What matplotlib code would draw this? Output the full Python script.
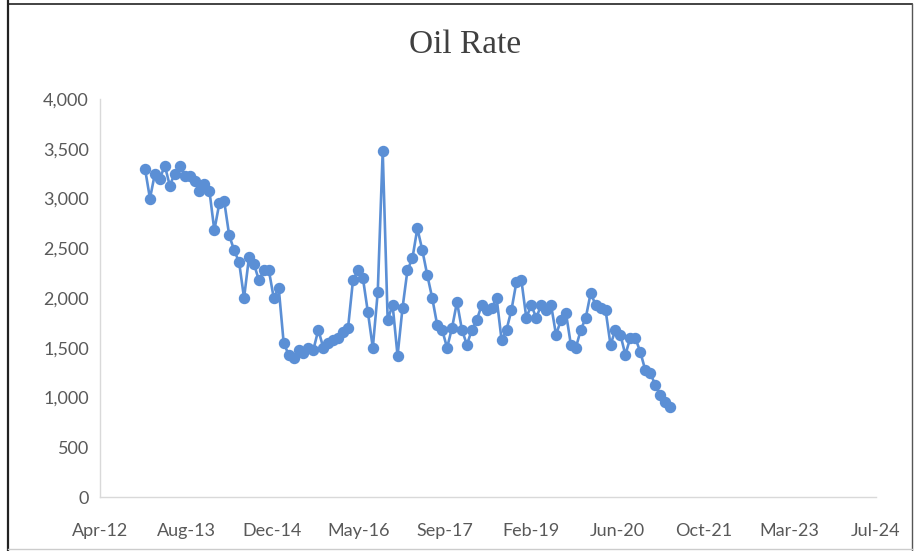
import matplotlib
matplotlib.use("Agg")
import matplotlib.pyplot as plt
import matplotlib.dates as mdates
from matplotlib.ticker import FuncFormatter, MultipleLocator, FixedLocator
from matplotlib.lines import Line2D
import pandas as pd

title = "Oil Rate"
start_date = "2012-12-18"
end_date = "2021-04-19"
oil_rate = [
    3300, 3000, 3250, 3200, 3330, 3130, 3250, 3330, 3230, 3230,
    3180, 3080, 3150, 3080, 2680, 2950, 2970, 2630, 2480, 2360,
    2000, 2410, 2340, 2180, 2280, 2280, 2000, 2100, 1550, 1430,
    1400, 1480, 1450, 1500, 1480, 1680, 1500, 1550, 1580, 1600,
    1660, 1700, 2180, 2280, 2200, 1860, 1500, 2060, 3480, 1780,
    1930, 1420, 1900, 2280, 2400, 2700, 2480, 2230, 2000, 1730,
    1680, 1500, 1700, 1960, 1680, 1530, 1680, 1780, 1930, 1880,
    1900, 2000, 1580, 1680, 1880, 2160, 2180, 1800, 1930, 1800,
    1930, 1880, 1930, 1630, 1780, 1850, 1530, 1500, 1680, 1800,
    2050, 1930, 1900, 1880, 1530, 1680, 1630, 1430, 1600, 1600,
    1460, 1280, 1250, 1130, 1030, 950, 900,
]
dates = pd.date_range(start_date, end_date, periods=len(oil_rate))

x_min = "2012-04-01"
x_max = "2024-07-27"
x_tick_step_days = 500
y_max = 4000

fig = plt.figure(figsize=(9.14, 5.51), dpi=100)
fig.patch.set_facecolor("white")
ax = fig.add_axes([100/914, 54/551, 776/914, 398/551])

color = "#5b8fd5"
ax.plot(dates, oil_rate, color=color, lw=1.9, marker="o", markersize=7.2,
        markeredgecolor=color, markerfacecolor=color)

ax.set_xlim(mdates.date2num(pd.Timestamp(x_min)), mdates.date2num(pd.Timestamp(x_max)))
ax.set_ylim(0, y_max)
xticks = pd.date_range(x_min, x_max, freq=f"{x_tick_step_days}D")
ax.xaxis.set_major_locator(FixedLocator(mdates.date2num(xticks)))
ax.xaxis.set_major_formatter(mdates.DateFormatter("%b-%y"))
ax.yaxis.set_major_locator(MultipleLocator(500))
ax.yaxis.set_major_formatter(FuncFormatter(lambda v, p: f"{v:,.0f}"))

for s in ["top", "right"]:
    ax.spines[s].set_visible(False)
for s in ["left", "bottom"]:
    ax.spines[s].set_color("#d9d9d9")
    ax.spines[s].set_linewidth(1.0)
ax.tick_params(axis="both", length=0, labelsize=13, labelcolor="#595959")
ax.tick_params(axis="x", pad=19)
ax.tick_params(axis="y", pad=8)
for lab in ax.get_xticklabels() + ax.get_yticklabels():
    lab.set_family("Lato")

fig.text(465/914, 1 - 45/551, title, ha="center", va="center",
         fontsize=24, family="Liberation Serif", color="#404040")

# outer frame
fig.add_artist(Line2D([8/914, 8/914], [0, 1], transform=fig.transFigure, color="#222222", lw=1.6))
fig.add_artist(Line2D([8/914, 912/914], [1 - 4/551, 1 - 4/551], transform=fig.transFigure, color="#222222", lw=1.2))
fig.add_artist(Line2D([912/914, 912/914], [0, 1 - 4/551], transform=fig.transFigure, color="#555555", lw=1.0))
fig.add_artist(Line2D([8/914, 912/914], [2/551, 2/551], transform=fig.transFigure, color="#cccccc", lw=1.0))

fig.savefig("out.png", dpi=100)
